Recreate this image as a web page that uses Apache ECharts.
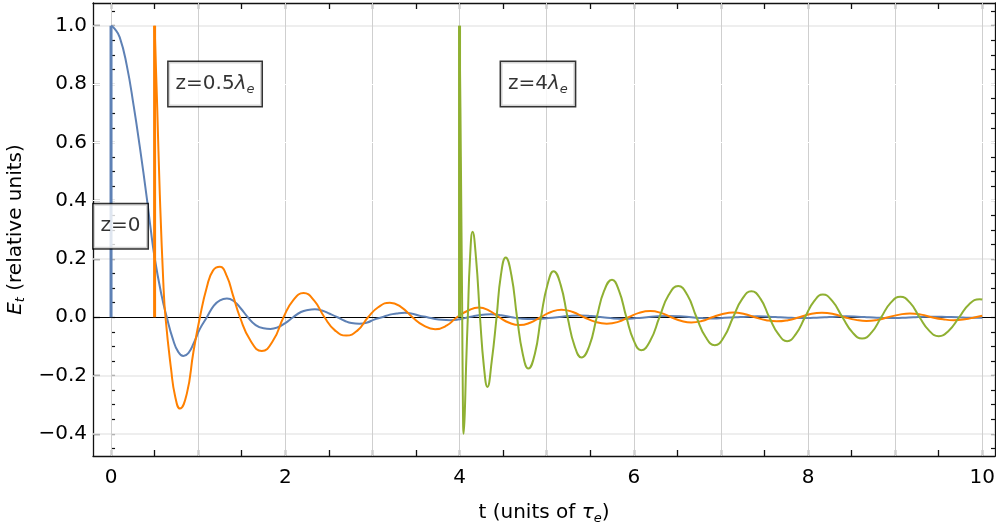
<!DOCTYPE html>
<html>
<head>
<meta charset="utf-8">
<script src="https://cdn.jsdelivr.net/npm/echarts@6/dist/echarts.min.js"></script>
<style>html,body{margin:0;padding:0;background:#fff}#c{width:996px;height:530px}</style>
</head>
<body>
<div id="c"></div>
<script>
// ---------- data ----------
const bluePulse = [[0, 0], [0, 1.0]];
const orangePulse = [[0.5, 0], [0.5, 1.0]];
const greenPulse = [[4.0, 0], [4.0, 1.0]];

const blueCurve = [[0,1.0],[0.04,0.99],[0.1,0.96],[0.18,0.865],[0.26,0.725],[0.33,0.585],[0.41,0.41],[0.45,0.315],[0.5,0.205],[0.58,0.075],[0.64,0.0],[0.71,-0.075],[0.77,-0.118],[0.83,-0.133],[0.89,-0.122],[0.95,-0.088],[1.02,-0.04],[1.10,0.0],[1.18,0.04],[1.25,0.058],[1.33,0.064],[1.41,0.055],[1.49,0.03],[1.57,0.0],[1.66,-0.027],[1.75,-0.038],[1.83,-0.040],[1.91,-0.035],[2.0,-0.02],[2.09,0.0],[2.18,0.018],[2.26,0.025],[2.34,0.027],[2.42,0.023],[2.51,0.012],[2.60,0.0],[2.68,-0.012],[2.76,-0.02],[2.85,-0.022],[2.94,-0.018],[3.02,-0.008],[3.11,0.0],[3.20,0.009],[3.28,0.013],[3.37,0.015],[3.46,0.012],[3.54,0.005],[3.63,0.0],[3.72,-0.006],[3.80,-0.009],[3.89,-0.010],[3.98,-0.008],[4.06,-0.003],[4.13,0.002],[4.24,0.008],[4.36,0.010],[4.48,0.007],[4.60,0.0],[4.72,-0.005],[4.85,-0.006],[4.98,-0.004],[5.12,0.0],[5.25,0.004],[5.38,0.006],[5.51,0.004],[5.64,0.0],[5.77,-0.004],[5.90,-0.005],[6.03,-0.003],[6.15,0.0],[6.28,0.003],[6.40,0.004],[6.53,0.003],[6.66,0.0],[6.79,-0.003],[6.91,-0.004],[7.04,-0.002],[7.17,0.0],[7.30,0.002],[7.42,0.003],[7.55,0.002],[7.68,0.0],[7.81,-0.002],[7.93,-0.003],[8.06,-0.002],[8.19,0.0],[8.32,0.002],[8.44,0.003],[8.57,0.002],[8.70,0.0],[8.83,-0.002],[8.95,-0.003],[9.08,-0.002],[9.21,0.0],[9.34,0.002],[9.46,0.002],[9.59,0.001],[9.72,0.0],[9.85,-0.002],[10.0,-0.002]];

const orangeCurve = [[0.5,1.0],[0.53,0.72],[0.56,0.42],[0.6,0.12],[0.625,0.0],[0.69,-0.18],[0.735,-0.27],[0.79,-0.313],[0.87,-0.262],[0.945,-0.12],[1.02,0.0],[1.10,0.104],[1.17,0.16],[1.25,0.173],[1.33,0.14],[1.40,0.075],[1.48,0.0],[1.60,-0.08],[1.73,-0.116],[1.86,-0.08],[1.98,0.0],[2.09,0.058],[2.21,0.083],[2.33,0.058],[2.45,0.0],[2.57,-0.045],[2.70,-0.063],[2.83,-0.045],[2.95,0.0],[3.07,0.035],[3.20,0.050],[3.33,0.035],[3.46,0.0],[3.59,-0.029],[3.72,-0.041],[3.85,-0.029],[3.97,0.0],[4.10,0.023],[4.22,0.033],[4.34,0.023],[4.455,0.0],[4.57,-0.019],[4.69,-0.027],[4.81,-0.019],[4.93,0.0],[5.05,0.018],[5.17,0.026],[5.30,0.018],[5.43,0.0],[5.56,-0.016],[5.69,-0.022],[5.82,-0.016],[5.94,0.0],[6.06,0.015],[6.19,0.021],[6.31,0.015],[6.43,0.0],[6.55,-0.013],[6.66,-0.018],[6.78,-0.013],[6.90,0.0],[7.02,0.011],[7.14,0.016],[7.27,0.011],[7.39,0.0],[7.52,-0.010],[7.64,-0.014],[7.77,-0.010],[7.90,0.0],[8.03,0.011],[8.16,0.015],[8.29,0.011],[8.42,0.0],[8.55,-0.009],[8.67,-0.013],[8.80,-0.009],[8.92,0.0],[9.05,0.009],[9.17,0.013],[9.30,0.009],[9.42,0.0],[9.55,-0.007],[9.67,-0.010],[9.80,-0.007],[9.92,0.0],[10.0,0.005]];

const greenCurve = [[4.0,1.0],[4.01,0.72],[4.02,0.38],[4.03,0.04],[4.038,-0.27],[4.047,-0.40],[4.06,-0.33],[4.075,-0.17],[4.095,0.0],[4.12,0.2],[4.15,0.293],[4.19,0.2],[4.235,0.0],[4.28,-0.17],[4.32,-0.239],[4.37,-0.15],[4.425,0.0],[4.475,0.145],[4.53,0.205],[4.595,0.145],[4.66,0.0],[4.725,-0.125],[4.79,-0.176],[4.865,-0.125],[4.935,0.0],[5.01,0.112],[5.08,0.158],[5.16,0.112],[5.24,0.0],[5.32,-0.098],[5.40,-0.138],[5.49,-0.098],[5.575,0.0],[5.66,0.091],[5.75,0.129],[5.83,0.091],[5.915,0.0],[6.0,-0.08],[6.085,-0.113],[6.19,-0.08],[6.295,0.0],[6.40,0.076],[6.51,0.107],[6.615,0.076],[6.72,0.0],[6.825,-0.068],[6.93,-0.096],[7.035,-0.068],[7.14,0.0],[7.245,0.063],[7.35,0.089],[7.455,0.063],[7.555,0.0],[7.66,-0.058],[7.76,-0.082],[7.86,-0.058],[7.965,0.0],[8.07,0.055],[8.17,0.078],[8.28,0.055],[8.395,0.0],[8.51,-0.052],[8.62,-0.073],[8.73,-0.052],[8.84,0.0],[8.95,0.05],[9.06,0.070],[9.17,0.05],[9.28,0.0],[9.39,-0.046],[9.50,-0.065],[9.615,-0.046],[9.735,0.0],[9.85,0.045],[9.97,0.062],[10.0,0.061]];

// tick labels / tick positions
const xTickLabels = [0, 2, 4, 6, 8, 10];
const xTicks = [0,0.5,1,1.5,2,2.5,3,3.5,4,4.5,5,5.5,6,6.5,7,7.5,8,8.5,9,9.5,10];
const yTickLabels = [-0.4, -0.2, 0, 0.2, 0.4, 0.6, 0.8, 1.0];
const yMinorTicks = [-0.45,-0.4,-0.35,-0.3,-0.25,-0.2,-0.15,-0.1,-0.05,0,0.05,0.1,0.15,0.2,0.25,0.3,0.35,0.4,0.45,0.5,0.55,0.6,0.65,0.7,0.75,0.8,0.85,0.9,0.95,1.0,1.05];
const xGrid = [0,1,2,3,4,5,6,7,8,9,10];
const yGrid = [1.0, 0.2, -0.2, -0.4];
const yGridWhite = [0.8, 0.6, 0.4];

// annotations
const annoText = ['z=0', 'z=0.5{l|λ}{s|e}', 'z=4{l|λ}{s|e}'];
const annoT = [0.109, 1.194, 4.90];
const annoY = [0.312, 0.80, 0.80];

// ---------- chart ----------
const FONT = 'DejaVu Sans';
const FS = 20;
const X_MIN = -0.207, X_MAX = 10.146, Y_MIN = -0.476, Y_MAX = 1.078;
const C_BLUE = '#5E81B5', C_ORANGE = '#FF8000', C_GREEN = '#8FB032';
const fmtY = v => (Math.abs(v) < 1e-9 ? '0.0' : v.toFixed(1).replace('-', '\u2212'));
const richSub = {
  i: {fontFamily: FONT, fontSize: FS, fontStyle: 'italic', color: '#000', lineHeight: 24},
  l: {fontFamily: FONT, fontSize: FS, fontStyle: 'italic', color: '#000', lineHeight: 24},
  s: {fontFamily: FONT, fontSize: 13, fontStyle: 'italic', color: '#000', lineHeight: 14, verticalAlign: 'bottom'}
};

const chart = echarts.init(document.getElementById('c'), null, {renderer: 'canvas'});
const frame = {show: true, lineStyle: {color: '#111', width: 1.3}};

chart.setOption({
  animation: false,
  backgroundColor: '#fff',
  grid: {left: 93, right: 1, top: 3, bottom: 74, containLabel: false, outerBoundsMode: 'none'},
  xAxis: [
    {type: 'value', position: 'bottom', min: X_MIN, max: X_MAX,
     axisLine: Object.assign({onZero: false}, frame),
     axisTick: {show: true, inside: true, length: 6, customValues: xTicks, lineStyle: {color: '#111', width: 1.3}},
     axisLabel: {customValues: xTickLabels, fontFamily: FONT, fontSize: FS, color: '#000', margin: 12, formatter: v => String(Math.round(v))},
     splitLine: {show: false},
     name: 't (units of {i|τ}{s|e})', nameLocation: 'middle', nameGap: 45,
     nameTextStyle: {fontFamily: FONT, fontSize: FS, color: '#000', lineHeight: 24, rich: richSub}},
    {type: 'value', position: 'top', min: X_MIN, max: X_MAX,
     axisLine: Object.assign({onZero: false}, frame),
     axisTick: {show: true, inside: true, length: 6, customValues: xTicks, lineStyle: {color: '#111', width: 1.3}},
     axisLabel: {show: false}, splitLine: {show: false}}
  ],
  yAxis: [
    {type: 'value', position: 'left', min: Y_MIN, max: Y_MAX,
     axisLine: Object.assign({onZero: false}, frame),
     axisTick: {show: true, inside: true, length: 7, customValues: yTickLabels, lineStyle: {color: '#111', width: 1.3}},
     axisLabel: {customValues: yTickLabels, fontFamily: FONT, fontSize: FS, color: '#000', margin: 6, formatter: fmtY},
     splitLine: {show: false},
     name: '{i|E}{s|t} (relative units)', nameLocation: 'middle', nameRotate: 90, nameGap: 61,
     nameTextStyle: {fontFamily: FONT, fontSize: FS, color: '#000', lineHeight: 24, rich: richSub}},
    {type: 'value', position: 'left', offset: 0, min: Y_MIN, max: Y_MAX,
     axisLine: {show: false},
     axisTick: {show: true, inside: true, length: 4, customValues: yMinorTicks, lineStyle: {color: '#111', width: 1.2}},
     axisLabel: {show: false}, splitLine: {show: false}},
    {type: 'value', position: 'right', min: Y_MIN, max: Y_MAX,
     axisLine: Object.assign({onZero: false}, frame),
     axisTick: {show: true, inside: true, length: 4, customValues: yMinorTicks, lineStyle: {color: '#111', width: 1.2}},
     axisLabel: {show: false}, splitLine: {show: false}}
  ],
  series: [
    {name: 'grid', type: 'line', data: [], silent: true, z: 1,
     markLine: {silent: true, z: 1, symbol: ['none', 'none'], label: {show: false}, animation: false,
       data: [].concat(
         yGrid.map(v => ({yAxis: v, lineStyle: {color: '#e8e8e8', width: 1.5, type: 'solid'}})),
         xGrid.map(v => ({xAxis: v, lineStyle: {color: '#cfcfcf', width: 1, type: 'solid'}})),
         yGridWhite.map(v => ({yAxis: v, lineStyle: {color: '#ffffff', width: 1, type: 'solid'}})),
         [{yAxis: 0, lineStyle: {color: '#000', width: 1, type: 'solid'}}]
       )}},
    {name: 'z=0 pulse', type: 'line', data: bluePulse, showSymbol: false, z: 3,
     lineStyle: {color: C_BLUE, width: 3}},
    {name: 'z=0', type: 'line', data: blueCurve, smooth: 0.5, showSymbol: false, z: 3,
     lineStyle: {color: C_BLUE, width: 2}},
    {name: 'z=0.5 pulse', type: 'line', data: orangePulse, showSymbol: false, z: 4,
     lineStyle: {color: C_ORANGE, width: 3}},
    {name: 'z=0.5', type: 'line', data: orangeCurve, smooth: 0.5, showSymbol: false, z: 4,
     lineStyle: {color: C_ORANGE, width: 2}},
    {name: 'z=4 pulse', type: 'line', data: greenPulse, showSymbol: false, z: 5,
     lineStyle: {color: C_GREEN, width: 3}},
    {name: 'z=4', type: 'line', data: greenCurve, smooth: 0.5, showSymbol: false, z: 5,
     lineStyle: {color: C_GREEN, width: 2}},
    {name: 'labels', type: 'scatter', z: 10, symbolSize: 1, itemStyle: {color: 'rgba(0,0,0,0)'},
     data: annoT.map((t, k) => [t, annoY[k]]),
     label: {show: true, position: 'inside', formatter: p => annoText[p.dataIndex],
       fontFamily: FONT, fontSize: FS, color: '#000', lineHeight: 24,
       textBorderWidth: 0, textShadowBlur: 0,
       backgroundColor: '#fff', borderColor: '#000', borderWidth: 1.5, padding: [10, 7, 10, 7],
       rich: richSub}}
  ]
});
</script>
</body>
</html>
